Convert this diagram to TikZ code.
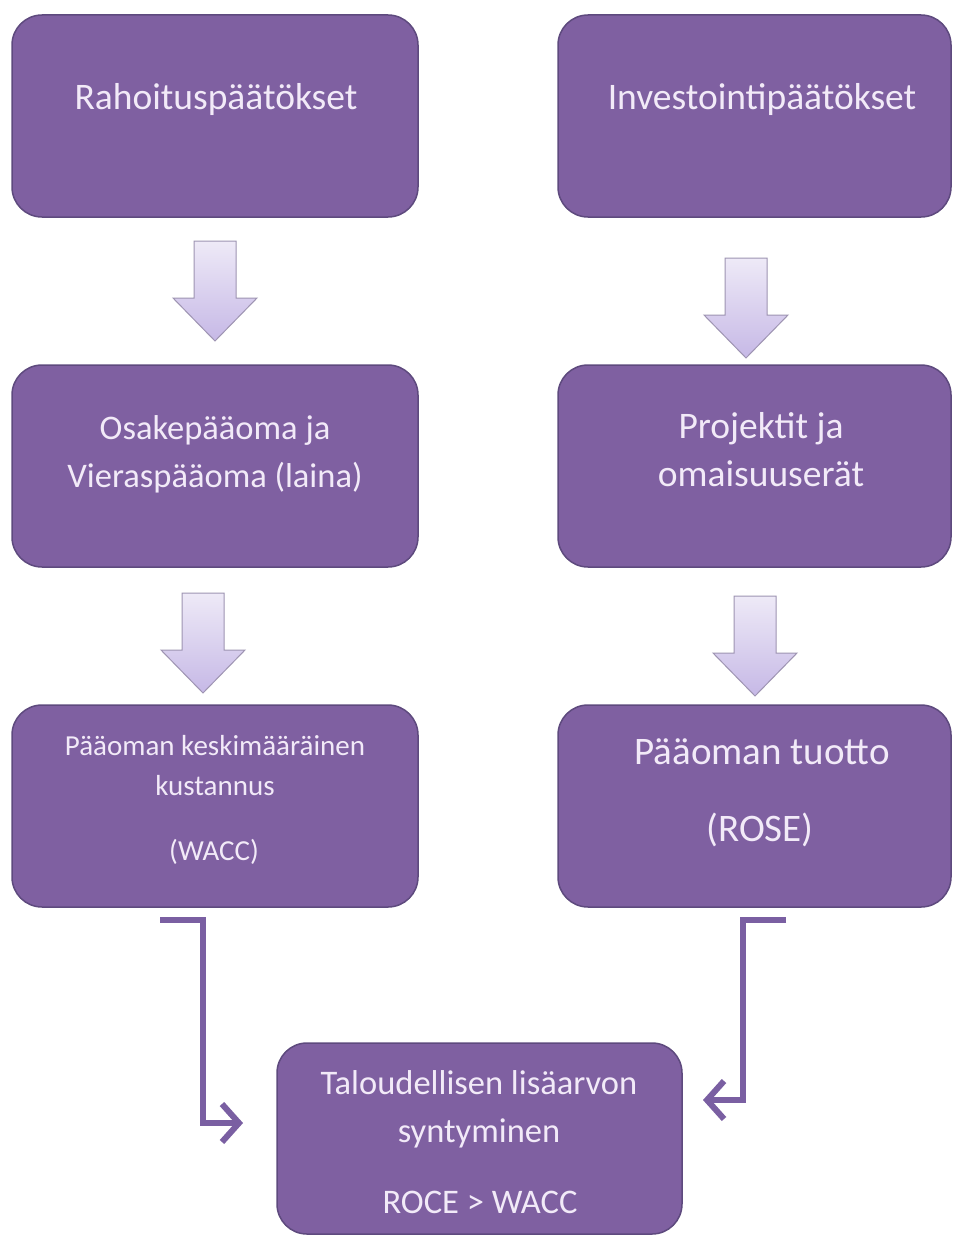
\documentclass[tikz,border=0pt]{standalone}
\usepackage{fontspec}
\setmainfont{Carlito}
\usetikzlibrary{arrows.meta}
\definecolor{boxfill}{HTML}{7F60A1}
\definecolor{boxline}{HTML}{5E4A7E}
\definecolor{boxtext}{HTML}{F2EAF8}
\definecolor{arrtop}{HTML}{EEEAF7}
\definecolor{arrbot}{HTML}{C6B8E6}
\definecolor{arrline}{HTML}{9E94B2}
\definecolor{conn}{HTML}{7A5FA2}
\begin{document}
\begin{tikzpicture}[x=1pt,y=-1pt,
  box/.style={draw=boxline, line width=1.5pt, fill=boxfill, rounded corners=30pt, inner sep=0pt},
  txt/.style={text=boxtext, align=center, inner sep=0pt, font=\fontsize{37.5}{48}\selectfont},
  midtxt/.style={text=boxtext, align=center, inner sep=0pt, font=\fontsize{34.5}{48}\selectfont},
  bigtxt/.style={text=boxtext, align=center, inner sep=0pt, font=\fontsize{39}{48}\selectfont},
  smalltxt/.style={text=boxtext, align=center, inner sep=0pt, font=\fontsize{29}{40}\selectfont},
  conn/.style={draw=conn, line width=6pt, -{Straight Barb[length=17pt,width=38pt,line width=6pt]}},
  downarrow/.pic={
    \path[draw=arrline, line width=1pt, top color=arrtop, bottom color=arrbot, line join=miter]
      (-21,0) -- (21,0) -- (21,57) -- (42,57) -- (0,100) -- (-42,57) -- (-21,57) -- cycle;
  }]
\useasboundingbox (0,0) rectangle (953,1239);
\fill[white] (0,0) rectangle (953,1239);

% boxes
\path[box] (12,15) rectangle (418,217) node[pos=.5] (b1) {};
\path[box] (558,15) rectangle (951,217) node[pos=.5] (b2) {};
\path[box] (12,365) rectangle (418,567) node[pos=.5] (b3) {};
\path[box] (558,365) rectangle (951,567) node[pos=.5] (b4) {};
\path[box] (12,705) rectangle (418,907) node[pos=.5] (b5) {};
\path[box] (558,705) rectangle (951,907) node[pos=.5] (b6) {};
\path[box] (277,1043) rectangle (682,1234) node[pos=.5] (b7) {};

% texts
\node[txt] (t1) at (216,100) {Rahoituspäätökset};
\node[txt] (t2) at (762,100) {Investointipäätökset};
\node[midtxt] (t3) at (215,454) {Osakepääoma ja\\Vieraspääoma (laina)};
\node[txt] (t4) at (761,450) {Projektit ja\\omaisuuserät};
\node[smalltxt] (t5a) at (215,766) {Pääoman keskimääräinen\\kustannus};
\node[smalltxt] (t5b) at (214,852) {(WACC)};
\node[bigtxt] (t6a) at (762,752) {Pääoman tuotto};
\node[bigtxt] (t6b) at (760,830) {(ROSE)};
\node[midtxt] (t7a) at (479,1109) {Taloudellisen lisäarvon\\syntyminen};
\node[midtxt] (t7b) at (480,1202) {ROCE > WACC};

% block arrows
\pic at (215,241) {downarrow};
\pic at (746,258) {downarrow};
\pic at (203,593) {downarrow};
\pic at (755,596) {downarrow};

% bent connectors
\coordinate (s1) at (160,920);
\coordinate (e1) at (243,1123);
\coordinate (s2) at (786,920);
\coordinate (e2) at (703,1100);
\draw[conn] (s1) -- (203,920) -- (203,1123) -- (e1);
\draw[conn] (s2) -- (743,920) -- (743,1100) -- (e2);
\end{tikzpicture}
\end{document}
